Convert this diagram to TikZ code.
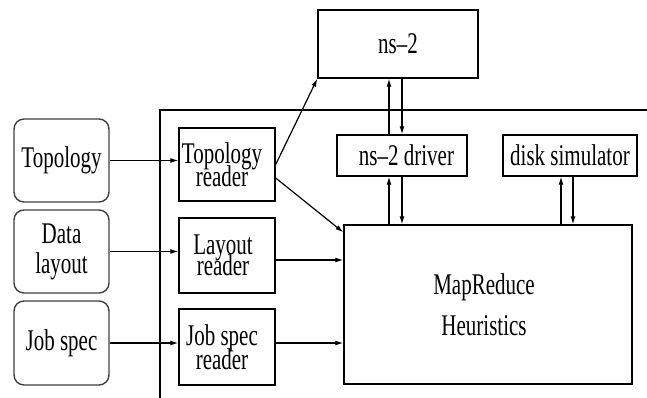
\documentclass[tikz,border=0pt]{standalone}
\usepackage{fontspec}
\setmainfont{Liberation Serif}
\usetikzlibrary{arrows.meta}
% tall, narrow serif lettering: #1 = baseline gap, #2 = lines separated by \cr
\newcommand\tall[2]{\scalebox{1}[1.43]{\vbox{\fontsize{21}{#1}\selectfont\lineskiplimit=-100pt\lineskip=0pt\halign{\hfil##\hfil\cr#2\crcr}}}}
\begin{document}
\begin{tikzpicture}[x=1pt,y=-1pt,
  inbox/.style={draw=black!75,line width=1.4pt,rounded corners=10pt,inner sep=0pt,minimum width=95pt},
  modbox/.style={draw,line width=1.4pt,inner sep=0pt},
  flow/.style={line width=1.2pt,-{Latex[length=8pt,width=5pt]}}]
\useasboundingbox (0,0) rectangle (647,398);
% simulator frame
\draw[line width=1.2pt] (160,398) -- (160,110) -- (647,110);
% inputs
\node[inbox,minimum height=83pt] (topo) at (61.5,160.5) {\tall{16}{Topology}};
\node[inbox,minimum height=83pt] (data) at (61.5,251.5) {\raisebox{-4pt}{\tall{21}{Data\cr layout}}};
\node[inbox,minimum height=84pt] (job) at (61.5,343) {\tall{16}{Job spec}};
% readers
\node[modbox,minimum width=96pt,minimum height=73pt] (treader) at (227,164.5) {\hspace*{-10pt}\tall{16}{Topology\cr reader}};
\node[modbox,minimum width=96pt,minimum height=75pt] (lreader) at (227,255.5) {\hspace*{-8pt}\tall{15}{Layout\cr reader}};
\node[modbox,minimum width=96pt,minimum height=76pt] (jreader) at (227,347) {\hspace*{-10pt}\tall{17}{Job spec\cr reader}};
% simulators
\node[modbox,minimum width=160pt,minimum height=68pt] (ns2) at (398,44) {\tall{16}{ns--2}};
\node[modbox,minimum width=130pt,minimum height=41pt] (driver) at (402,155.5) {\hspace*{9pt}\tall{16}{ns--2 driver}};
\node[modbox,minimum width=134pt,minimum height=41pt] (disk) at (570,155.5) {\tall{16}{disk simulator}};
\node[modbox,minimum width=288pt,minimum height=159pt] (mr) at (488,304.5) {\hspace*{-8pt}\tall{28.7}{MapReduce\cr Heuristics}};
% input flows
\draw[flow] (topo.east) -- (topo.east -| treader.west);
\draw[flow] (data.east) -- (data.east -| lreader.west);
\draw[flow] (job.east) -- (job.east -| jreader.west);
% reader outputs
\draw[flow] (treader.east) -- (ns2.south west);
\draw[flow] ([yshift=-13.5pt]treader.east) -- ([yshift=-8pt]mr.north west);
\draw[flow] ([yshift=-4.5pt]lreader.east) -- ([yshift=-4.5pt]lreader.east -| mr.west);
\draw[flow] ([yshift=4pt]jreader.east) -- ([yshift=4pt]jreader.east -| mr.west);
% ns-2 exchange
\draw[flow] ([xshift=-13pt]driver.north) -- ([xshift=-13pt]driver.north |- ns2.south);
\draw[flow] (driver.north |- ns2.south) -- (driver.north);
\draw[flow] ([xshift=-13pt]driver.south |- mr.north) -- ([xshift=-13pt]driver.south);
\draw[flow] (driver.south) -- (driver.south |- mr.north);
% disk exchange
\draw[flow] ([xshift=-9pt]disk.south |- mr.north) -- ([xshift=-9pt]disk.south);
\draw[flow] ([xshift=3pt]disk.south) -- ([xshift=3pt]disk.south |- mr.north);
\end{tikzpicture}
\end{document}
